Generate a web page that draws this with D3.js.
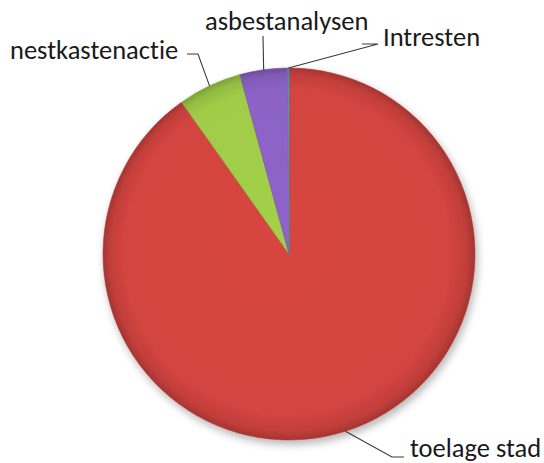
<!DOCTYPE html>
<html>
<head>
<meta charset="utf-8">
<script src="https://cdn.jsdelivr.net/npm/d3@7"></script>
<style>
  html, body { margin: 0; padding: 0; background: #fff; }
  svg { display: block; }
  text { font-family: Carlito, Lato, "Open Sans", sans-serif; fill: #1a1a1a;
         font-variant-ligatures: none; font-feature-settings: "liga" 0, "clig" 0; }
</style>
</head>
<body>
<svg id="chart" width="544" height="463"></svg>
<script>
// ---- data ----
const categories = ["toelage stad", "nestkastenactie", "asbestanalysen", "Intresten"];
const values = [90.2, 5.55, 4.15, 0.1];
const colors = ["#d3443f", "#a0cc48", "#8c62c6", "#4bacc6"];

// ---- layout ----
const W = 544, H = 463;
const cx = 289, cy = 254, R = 186;
const fontSize = 26.5;
// label layout: text anchor point (start, baseline) and elbow points of the leader line
const labelLayout = [
  { tx: 410, ty: 457, elbow: [[392, 457], [404, 457]] },
  { tx: 10,  ty: 59,  elbow: [[198, 54], [187, 54]] },
  { tx: 205, ty: 30,  elbow: [[263, 36]] },
  { tx: 383, ty: 46,  elbow: [[378, 44], [362, 44]] }
];

const svg = d3.select("#chart");
const defs = svg.append("defs");

// soft shadow
const f = defs.append("filter").attr("id", "shadow")
  .attr("x", "-20%").attr("y", "-20%").attr("width", "140%").attr("height", "140%");
f.append("feGaussianBlur").attr("in", "SourceAlpha").attr("stdDeviation", 4);
f.append("feOffset").attr("dx", 2).attr("dy", 4).attr("result", "b");
f.append("feComponentTransfer").append("feFuncA").attr("type", "linear").attr("slope", 0.3);
const fm = f.append("feMerge");
fm.append("feMergeNode");
fm.append("feMergeNode").attr("in", "SourceGraphic");

// per-colour bevel gradients (in the pie group's own coordinates, centred at 0,0)
colors.forEach((c, i) => {
  const base = d3.color(c);
  const g = defs.append("radialGradient").attr("id", "grad" + i)
    .attr("gradientUnits", "userSpaceOnUse")
    .attr("cx", 0).attr("cy", 0).attr("r", R)
    .attr("fx", -15).attr("fy", -20);
  g.append("stop").attr("offset", "0%").attr("stop-color", base.brighter(0.05));
  g.append("stop").attr("offset", "88%").attr("stop-color", base);
  g.append("stop").attr("offset", "96%").attr("stop-color", base.darker(0.25));
  g.append("stop").attr("offset", "100%").attr("stop-color", base.darker(0.7));
});

const pie = d3.pie().sort(null).value(d => d)(values);
const arc = d3.arc().innerRadius(0).outerRadius(R);

const gPie = svg.append("g").attr("transform", `translate(${cx},${cy})`)
  .attr("filter", "url(#shadow)");

gPie.selectAll("path.slice").data(pie).join("path")
  .attr("class", "slice")
  .attr("d", arc)
  .attr("fill", (d, i) => `url(#grad${i})`)
  .attr("stroke", (d, i) => d3.color(colors[i]).darker(0.5))
  .attr("stroke-width", 0.6)
  .attr("stroke-linejoin", "round");

// leader lines and labels
const gLab = svg.append("g");
pie.forEach((d, i) => {
  const a = (d.startAngle + d.endAngle) / 2;
  const sx = cx + Math.sin(a) * R, sy = cy - Math.cos(a) * R;
  const L = labelLayout[i];
  const pts = [[sx, sy]].concat(L.elbow);
  gLab.append("path")
    .attr("d", d3.line()(pts))
    .attr("fill", "none")
    .attr("stroke", "#3a3a3a")
    .attr("stroke-width", 1.1);
  gLab.append("text")
    .attr("x", L.tx).attr("y", L.ty)
    .attr("font-size", fontSize)
    .text(categories[i]);
});
</script>
</body>
</html>
